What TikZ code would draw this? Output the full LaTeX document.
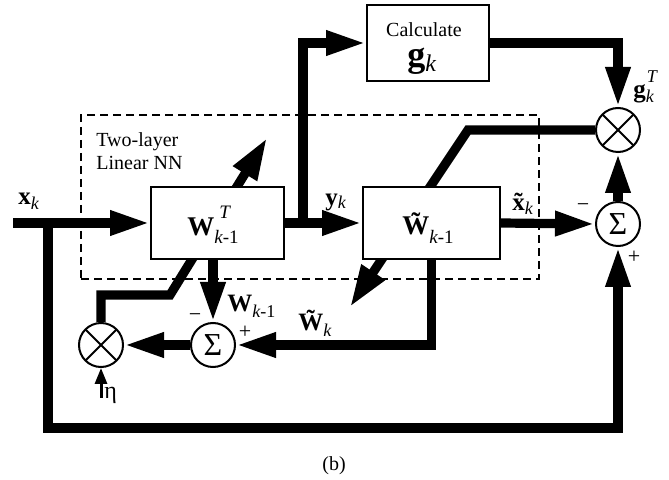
\documentclass[tikz,border=0pt]{standalone}
\usepackage{fontspec}
\setmainfont{Liberation Serif}
\usetikzlibrary{arrows.meta}
% a small tilde set over its argument
\newcommand{\tildeon}[2][0pt]{\leavevmode\sbox0{#2}\rlap{\usebox0}\makebox[\wd0]{\raisebox{#1}{\char"02DC}}}
% lowered / raised small italic indices
\newcommand{\subtxt}[3]{\raisebox{-#1}{\fontsize{#2}{#2}\selectfont\itshape #3}}
\newcommand{\suptxt}[3]{\raisebox{#1}{\fontsize{#2}{#2}\selectfont\itshape #3}}
\begin{document}
\begin{tikzpicture}[x=0.5pt,y=-0.5pt,
  wire/.style={line width=4.6pt},
  arr/.style={-{Triangle[length=20pt,width=11.5pt]}},
  bigarr/.style={-{Triangle[length=21pt,width=13pt]}},
  thinarr/.style={line width=1.5pt,-{Triangle[length=8pt,width=6pt]}},
  blk/.style={draw,line width=1pt,fill=white,inner sep=0pt},
  nnbox/.style={draw,line width=1pt,dash pattern=on 4pt off 2.5pt,inner sep=0pt,
    minimum width=229pt,minimum height=82pt},
  junc/.style={circle,draw,line width=1pt,fill=white,minimum size=22pt,inner sep=0pt,
    font=\fontsize{16}{16}\selectfont},
  mult/.style={junc,path picture={
    \draw[line width=1pt] (path picture bounding box.north west)--(path picture bounding box.south east)
      (path picture bounding box.north east)--(path picture bounding box.south west);}},
  lbl/.style={inner sep=0pt,anchor=base west,font=\fontsize{12.5}{15}\selectfont},
  boxtxt/.style={inner sep=0pt,anchor=base west,font=\fontsize{13.5}{16}\selectfont},
  sign/.style={inner sep=0pt,font=\fontsize{11}{13}\selectfont},
  txt/.style={inner sep=0pt,font=\fontsize{10}{12}\selectfont}]
\useasboundingbox (0,0) rectangle (669,480);

% boundary of the two-layer linear network
\node[nnbox] (nn) at (310,197) {};
\node[txt,anchor=base west] (nn1) at (96,147) {Two-layer};
\node[txt,anchor=base west] (nn2) at (96,170) {Linear NN};

% multipliers and summing junctions
\node[mult] (mulL) at (101,345) {};
\node[junc] (sumL) at (213,345) {Σ};
\node[mult] (mulR) at (618,130) {};
\node[junc] (sumR) at (618,224) {Σ};

% weight-update arrows, passing behind the blocks
\coordinate (a1) at (170,295);
\coordinate (a1tip) at (267,138);
\draw[wire,bigarr] (mulL.north) |- (a1) -- (a1tip);
\coordinate (a2) at (468,130);
\coordinate (a2tip) at (350,307);
\draw[wire,bigarr] (mulR.west) -- (a2) -- (a2tip);

% blocks
\node[blk,minimum width=66.5pt,minimum height=36pt] (wt) at (217.5,223) {};
\node[blk,minimum width=68.5pt,minimum height=36pt] (wtil) at (431.5,223) {};
\node[blk,minimum width=61pt,minimum height=38pt] (calc) at (428,43) {};
\node[boxtxt] (wttxt) at (187,236) {\textbf{W}\rlap{\hspace{2.5pt}\suptxt{0.66em}{9.5}{T}}\subtxt{0.26em}{9.5}{k\upshape -1}};
\node[boxtxt] (wtiltxt) at (402,235) {\textbf{\tildeon[0.12em]{W}}\subtxt{0.3em}{9.5}{k\upshape -1}};
\node[txt,anchor=base] (calc1) at (424,37) {Calculate};
\node[inner sep=0pt,anchor=base west,font=\fontsize{18}{18}\selectfont] (calc2) at (407,67) {\textbf{g}\subtxt{0.12em}{12}{k}};

% signal paths
\coordinate (xin) at (13,223);
\coordinate (fb) at (48,223);
\coordinate (fbc) at (618,428);
\coordinate (yb) at (303,223);
\draw[wire,arr] (xin) -- (wt.west);
\draw[wire,arr] (fb) |- (fbc) -- (sumR.south);
\draw[wire,arr] (wt.east) -- (wtil.west);
\draw[wire,arr] (yb) |- (calc.west);
\draw[wire,arr] (calc.east) -| (mulR.north);
\draw[wire,arr] (wtil.east) -- (sumR.west);
\draw[wire,arr] (sumR.north) -- (mulR.south);
\draw[wire,arr] (wtil.south) |- (sumL.east);
\draw[wire,arr] (sumL.north |- wt.south) -- (sumL.north);
\draw[wire,arr] (sumL.west) -- (mulL.east);
\coordinate (etain) at (101,398);
\draw[thinarr] (etain) -- (mulL.south);

% signal labels
\node[lbl] (lxk) at (18,205) {\textbf{x}\subtxt{2.5pt}{9}{k}};
\node[lbl] (lyk) at (325,206) {\textbf{y}\subtxt{1.5pt}{9}{k}};
\node[lbl] (lxt) at (512,211) {\textbf{\tildeon{x}}\subtxt{2pt}{9}{k}};
\node[lbl] (lgk) at (633,98) {\textbf{g}\rlap{\hspace{0.5pt}\suptxt{7.5pt}{9}{T}}\subtxt{2.5pt}{9}{k}};
\node[lbl] (lwk) at (227,312) {\textbf{W}\subtxt{3pt}{9}{k\upshape -1}};
\node[lbl] (lwtk) at (298,331) {\textbf{\tildeon[0.12em]{W}}\subtxt{3pt}{9}{k}};
\node[inner sep=0pt,anchor=base west,font=\fontsize{12}{14}\selectfont] (leta) at (104,399) {η};
\node[sign] (sRm) at (583,208) {−};
\node[sign] (sRp) at (634,257) {+};
\node[sign] (sLm) at (195,318) {−};
\node[sign] (sLp) at (245,332) {+};

\node[txt,anchor=base] (cap) at (334,470) {(b)};
\end{tikzpicture}
\end{document}
